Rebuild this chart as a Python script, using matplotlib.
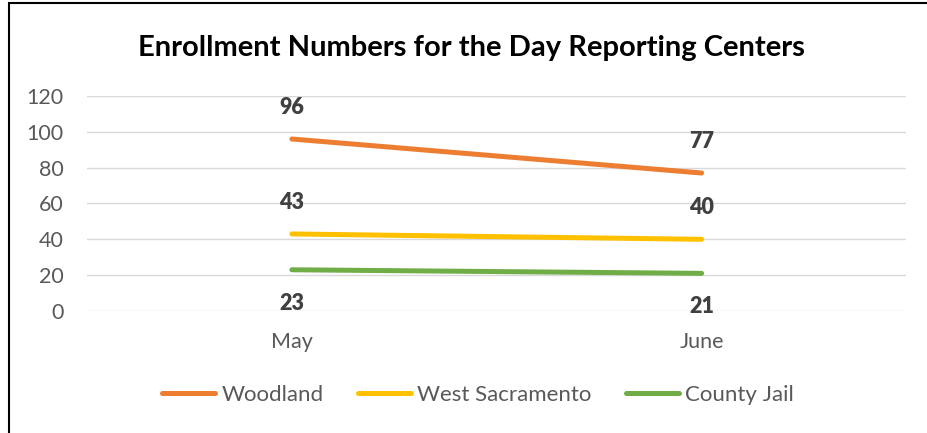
import matplotlib.pyplot as plt
from matplotlib.patches import Rectangle

months = ["May", "June"]
woodland = [96, 77]
west_sac = [43, 40]
county_jail = [23, 21]

plt.rcParams['font.family'] = ['Lato', 'DejaVu Sans']

fig = plt.figure(figsize=(9.28, 4.33), dpi=100)
ax = fig.add_axes([0.0938, 0.2818, 0.883, 0.4965])

x = [0, 1]
series = [
    ("Woodland", woodland, '#ED7D31', 23),
    ("West Sacramento", west_sac, '#FFC000', 23),
    ("County Jail", county_jail, '#70AD47', -24),
]
for name, vals, col, off in series:
    ax.plot(x, vals, color=col, lw=3.6, solid_capstyle='round', label=name)
    for xi, v in zip(x, vals):
        ax.annotate(str(v), (xi, v), xytext=(0, off), textcoords='offset points',
                    ha='center', va='center', fontsize=15.5, fontweight='heavy',
                    color='#404040')

ax.set_xlim(-0.5, 1.5)
ax.set_ylim(0, 120)
ax.set_yticks(range(0, 121, 20))
ax.set_xticks(x)
ax.set_xticklabels(months)
ax.grid(axis='y', color='#D9D9D9', lw=1)
ax.set_axisbelow(True)
for s in ax.spines.values():
    s.set_visible(False)
ax.tick_params(length=0, labelsize=15.5, colors='#595959')
ax.tick_params(axis='x', pad=15)
ax.tick_params(axis='y', pad=17)

fig.text(0.508, 0.89, "Enrollment Numbers for the Day Reporting Centers",
         ha='center', va='center', fontsize=21, fontweight='bold', color='black')

fig.legend(loc='center', bbox_to_anchor=(0.515, 0.088), ncol=3, frameon=False,
           fontsize=16, handlelength=2.4, handletextpad=0.27, columnspacing=1.55,
           labelcolor='#595959')

fig.patches.append(Rectangle((9 / 928, -0.1), 1.1, 1.1 - 3 / 433,
                             transform=fig.transFigure, fill=False,
                             edgecolor='black', lw=1.5))

fig.savefig("out.png", dpi=100)
